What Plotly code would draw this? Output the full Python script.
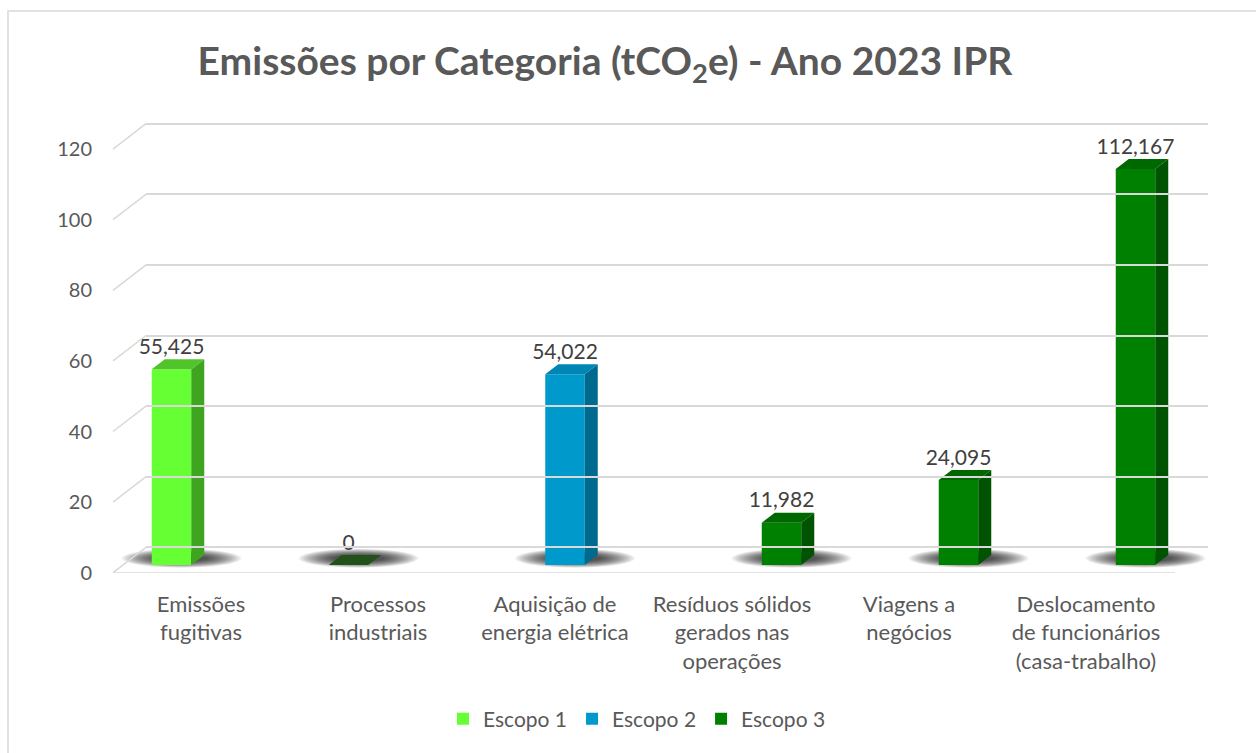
import plotly.graph_objects as go

# ---------------- data ----------------
categories = ["Emissões<br>fugitivas", "Processos<br>industriais", "Aquisição de<br>energia elétrica",
              "Resíduos sólidos<br>gerados nas<br>operações", "Viagens a<br>negócios",
              "Deslocamento<br>de funcionários<br>(casa-trabalho)"]
series_names = ["Escopo 1", "Escopo 2", "Escopo 3"]
escopo1 = [55.425, 0, None, None, None, None]
escopo2 = [None, None, 54.022, None, None, None]
escopo3 = [None, None, None, 11.982, 24.095, 112.167]
y_ticks = [0, 20, 40, 60, 80, 100, 120]

front_colors = ["#66FF33", "#0099CC", "#008000"]
side_colors = ["#3FA520", "#006A8E", "#005300"]
top_colors = ["#52C42B", "#0086B5", "#006800"]
zero_top_color = "#23511A"

# ---------------- geometry helpers ----------------
W, H = 1256, 753
K = 3.53                     # pixels per unit (vertical)
CAT_PX = 177.0               # pixels per category
Y_LO, Y_HI = -2, 130

def ydom(zero_px, lo=Y_LO, hi=Y_HI):
    bottom = zero_px - K * lo
    top = zero_px - K * hi
    return [(H - bottom) / H, (H - top) / H]

def xdom(left_px, right_px):
    return [left_px / W, right_px / W]

bar_w = 39.5 / CAT_PX
offsets = [-1.5 * bar_w, -0.5 * bar_w, 0.5 * bar_w]
ddx = 13 / CAT_PX
ddy = 10 / K
# bar axis spans the full width; category i centre lies at 122.5 + 177*(i+0.5) px
bar_range = [-0.5 - 122.5 / CAT_PX, 5.5 + (W - 1184.5) / CAT_PX]

fig = go.Figure()
shapes = []

# back wall grid helper trace (invisible)
fig.add_trace(go.Scatter(x=[0], y=[0], xaxis="x3", yaxis="y3", mode="markers",
                         marker=dict(opacity=0), showlegend=False, hoverinfo="skip"))
# label axis helper trace
fig.add_trace(go.Scatter(x=[0], y=[0], xaxis="x", yaxis="y2", mode="markers",
                         marker=dict(opacity=0), showlegend=False, hoverinfo="skip"))

all_series = [escopo1, escopo2, escopo3]
idx = list(range(len(categories)))

# soft shadows on the floor (below the bars)
n_layers = 20
for s, vals in enumerate(all_series):
    for i, v in zip(idx, vals):
        if v is None:
            continue
        cx = i + offsets[s] + bar_w / 2 + 10 / CAT_PX
        cy = 1.9
        for j in range(n_layers):
            f = 1 - j / n_layers
            rx = 24 + 36 * f
            ry = 3.0 + 6.5 * f
            shapes.append(dict(type="circle", xref="x2", yref="y", layer="below",
                               x0=cx - rx / CAT_PX, x1=cx + rx / CAT_PX,
                               y0=cy - ry / K, y1=cy + ry / K,
                               fillcolor="black", opacity=0.05, line=dict(width=0)))

# front faces
for s, vals in enumerate(all_series):
    fig.add_trace(go.Bar(x=idx, y=vals, name=series_names[s], xaxis="x2", yaxis="y",
                         width=bar_w, offset=offsets[s],
                         marker=dict(color=front_colors[s], line=dict(width=0)),
                         hoverinfo="skip"))

# side and top faces
for s, vals in enumerate(all_series):
    for i, v in zip(idx, vals):
        if v is None:
            continue
        xl = i + offsets[s]
        xr = xl + bar_w
        if v > 0:
            fig.add_trace(go.Scatter(
                x=[xr, xr + ddx, xr + ddx, xr, xr], y=[0, ddy, v + ddy, v, 0],
                xaxis="x2", yaxis="y", mode="lines", fill="toself",
                fillcolor=side_colors[s], line=dict(width=0), showlegend=False, hoverinfo="skip"))
        fig.add_trace(go.Scatter(
            x=[xl, xl + ddx, xr + ddx, xr, xl], y=[v, v + ddy, v + ddy, v, v],
            xaxis="x2", yaxis="y", mode="lines", fill="toself",
            fillcolor=top_colors[s] if v > 0 else zero_top_color,
            line=dict(width=0), showlegend=False, hoverinfo="skip"))

# data labels
lab_x, lab_y, lab_t = [], [], []
for s, vals in enumerate(all_series):
    for i, v in zip(idx, vals):
        if v is None:
            continue
        lab_x.append(i + offsets[s] + bar_w / 2)
        lab_y.append(v + ddy)
        lab_t.append("0" if v == 0 else f"{v:.3f}".replace(".", ","))
fig.add_trace(go.Scatter(x=lab_x, y=lab_y, text=lab_t, mode="text", textposition="top center",
                         textfont=dict(family="Lato", size=21, color="#404040"),
                         xaxis="x2", yaxis="y", showlegend=False, hoverinfo="skip"))

# slanted connectors on the left wall and floor
front_left, back_left = 113, 146
back_off = (572.7 - 547.3) / K
for t in y_ticks:
    shapes.append(dict(type="line", xref="paper", yref="y2",
                       x0=front_left / W, x1=back_left / W, y0=t, y1=t + back_off,
                       line=dict(color="#D9D9D9", width=1.5)))
# floor front edge
shapes.append(dict(type="line", xref="paper", yref="y2", x0=front_left / W, x1=1175 / W,
                   y0=0, y1=0, line=dict(color="#D9D9D9", width=1.5)))
# chart border
shapes.append(dict(type="rect", xref="paper", yref="paper", x0=8 / W, x1=1.02,
                   y0=-0.02, y1=(H - 11) / H, line=dict(color="#D9D9D9", width=1.5),
                   fillcolor="rgba(0,0,0,0)"))

fig.update_layout(
    width=W, height=H, autosize=False,
    margin=dict(l=0, r=0, t=0, b=0, pad=0, autoexpand=False),
    paper_bgcolor="white", plot_bgcolor="rgba(0,0,0,0)",
    font=dict(family="Lato", color="#595959"),
    title=dict(text="<b>Emissões por Categoria (tCO<sub>2</sub>e) - Ano 2023 IPR</b>",
               x=605 / W, xanchor="center", y=1 - 61 / H, yanchor="middle", yref="container",
               font=dict(family="Lato", size=39, color="#595959")),
    showlegend=True,
    legend=dict(orientation="h", x=(W / 2 + 9) / W, xanchor="center", y=(H - 719) / H,
                yanchor="middle",
                font=dict(family="Lato", size=21, color="#595959"), traceorder="normal"),
    shapes=shapes,
    xaxis=dict(domain=xdom(112.5, 1174.5), range=[-0.5, 5.5], anchor="y2", automargin=False,
               tickmode="array", tickvals=idx, ticktext=categories,
               showgrid=False, zeroline=False, showline=False, ticks="",
               tickfont=dict(family="Lato", size=22, color="#595959"), ticklabelstandoff=16),
    xaxis2=dict(domain=[0, 1], range=bar_range, anchor="y",
                visible=False, automargin=False),
    xaxis3=dict(domain=xdom(146, 1208), range=[0, 1], anchor="y3", visible=True, automargin=False,
                showgrid=False, zeroline=False, showline=False, showticklabels=False, ticks=""),
    yaxis=dict(domain=ydom(565), range=[Y_LO, Y_HI], anchor="x2", visible=False, automargin=False),
    yaxis2=dict(domain=ydom(572.7, 0, Y_HI), range=[0, Y_HI], anchor="free", position=96 / W,
                automargin=False,
                tickmode="array", tickvals=y_ticks, showgrid=False, zeroline=False,
                showline=False, ticks="", ticklabelstandoff=4,
                tickfont=dict(family="Lato", size=20, color="#595959")),
    yaxis3=dict(domain=ydom(547.3), range=[Y_LO, Y_HI], anchor="x3", automargin=False,
                tickmode="array", tickvals=y_ticks, showgrid=True, gridcolor="#D9D9D9",
                gridwidth=1.5, zeroline=False, showline=False, showticklabels=False, ticks=""),
)

fig.write_html(
    "out.html",
    config={"displayModeBar": False},
    post_script=("document.documentElement.style.margin='0';"
                 "document.body.style.margin='0';"
                 "document.documentElement.style.overflow='hidden';"
                 "document.body.style.overflow='hidden';"),
)
